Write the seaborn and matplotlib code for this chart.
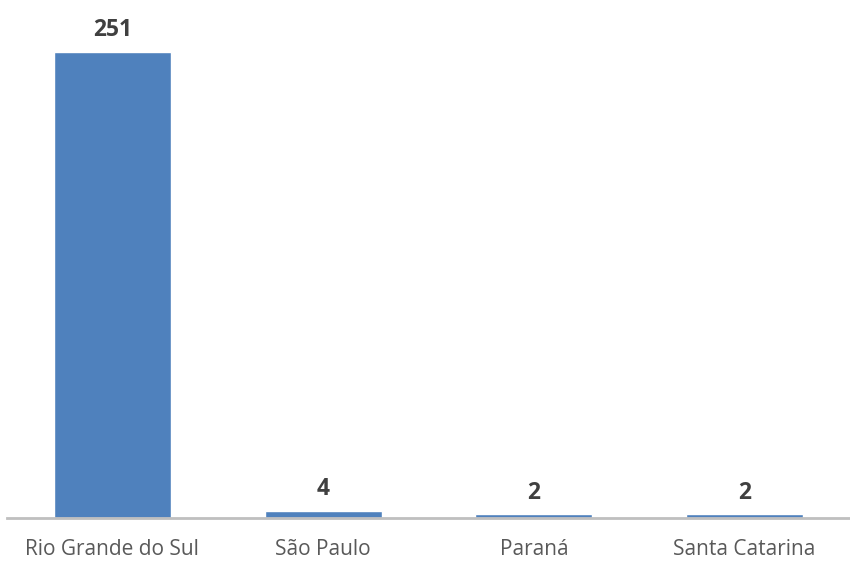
import matplotlib
matplotlib.use('Agg')
import matplotlib.pyplot as plt
import seaborn as sns
import pandas as pd

states = ['Rio Grande do Sul', 'São Paulo', 'Paraná', 'Santa Catarina']
counts = [251, 4, 2, 2]

df = pd.DataFrame({'state': states, 'count': counts})

sns.set_style('white')
plt.rcParams['font.family'] = ['Open Sans', 'DejaVu Sans']

fig = plt.figure(figsize=(8.5, 5.61), dpi=100)
ax = fig.add_axes([7 / 850, 43 / 561, 1 - 7 / 850, 508 / 561])

sns.barplot(data=df, x='state', y='count', color='#4F81BD', saturation=1,
            width=0.555, ax=ax)

ax.set_xlim(-0.5, 3.5)
ax.set_ylim(0, 251 * 508 / 466)

for container in ax.containers:
    ax.bar_label(container, padding=7, fontsize=16.5, fontweight='bold',
                 color='#404040')

ax.set_xlabel('')
ax.set_ylabel('')
ax.set_yticks([])
ax.tick_params(axis='x', length=0, pad=15, labelsize=15, labelcolor='#595959')

for side in ['top', 'right', 'left']:
    ax.spines[side].set_visible(False)
ax.spines['bottom'].set_color('#BFBFBF')
ax.spines['bottom'].set_linewidth(2)

plt.savefig('out.png', dpi=100)
plt.close()
